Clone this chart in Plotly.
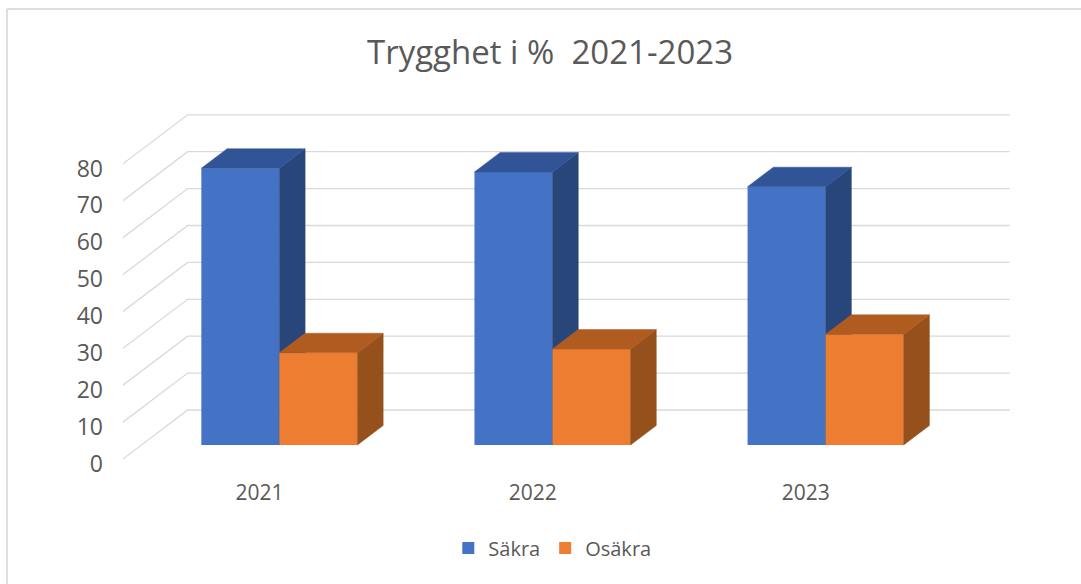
import plotly.graph_objects as go

years = ["2021", "2022", "2023"]
sakra = [75, 74, 70]
osakra = [25, 26, 30]
y_ticks = [0, 10, 20, 30, 40, 50, 60, 70, 80]

PX_X = 273.0
PX_Y = 3.69
W, H = 1081, 584
L, R, T, B = 123.4, 1011, 105, 470
ZERO_PX = 460
DX = 66 / PX_X
DY = 50 / PX_Y
BAR_W = 78 / PX_X
D0, D1 = 0.30, 0.69
WALL_L, WALL_R = -0.505, 2.505
LABEL_OFFSET = 1.0
xr = [-0.5, -0.5 + (R - L) / PX_X]
yr = [(ZERO_PX - B) / PX_Y, (ZERO_PX - T) / PX_Y]
FONT = "Open Sans"
TXT = "#595959"

def proj(x, v, d):
    return x + d * DX, v + d * DY

def poly(points, color, xa, ya):
    xs, ys = zip(*points)
    return go.Scatter(x=list(xs) + [xs[0]], y=list(ys) + [ys[0]], mode="lines", fill="toself",
                      fillcolor=color, line=dict(color=color, width=0.5), showlegend=False,
                      hoverinfo="skip", xaxis=xa, yaxis=ya, cliponaxis=False)

fig = go.Figure()

# walls
for v in y_ticks:
    a = proj(WALL_L, v, 0)
    b = proj(WALL_L, v, 1)
    c = proj(WALL_R, v, 1)
    fig.add_trace(go.Scatter(x=[a[0], b[0], c[0]], y=[a[1], b[1], c[1]], mode="lines", cliponaxis=False,
                             line=dict(color="#D9D9D9", width=1.3), showlegend=False, hoverinfo="skip"))

def series(name, vals, start, front, side, top, xa, ya):
    xs, bases = [], []
    for i, v in enumerate(vals):
        xs.append(i + start * BAR_W + D0 * DX)
        bases.append(D0 * DY)
    fig.add_trace(go.Bar(name=name, x=xs, y=vals, base=bases, width=BAR_W, offset=0,
                         marker=dict(color=front, line=dict(width=0)), xaxis=xa, yaxis=ya))
    for i, v in enumerate(vals):
        x0 = i + start * BAR_W
        x1 = x0 + BAR_W
        fig.add_trace(poly([proj(x1, 0, D0), proj(x1, 0, D1), proj(x1, v, D1), proj(x1, v, D0)], side, xa, ya))
        fig.add_trace(poly([proj(x0, v, D0), proj(x1, v, D0), proj(x1, v, D1), proj(x0, v, D1)], top, xa, ya))

series("Säkra", sakra, -1, "#4472C4", "#28467A", "#305496", "x2", "y2")
series("Osäkra", osakra, 0, "#ED7D31", "#95501B", "#B05C20", "x3", "y3")

hidden = dict(range=xr, visible=False, fixedrange=True)
hiddeny = dict(range=yr, visible=False, fixedrange=True)
px = lambda p: (p - L) / (R - L)
py = lambda p: (B - p) / (B - T)
border = dict(color="#DEDEDE", width=2)
fig.update_layout(
    width=W, height=H, autosize=False,
    margin=dict(l=L, r=W - R, t=T, b=H - B, pad=0),
    paper_bgcolor="white", plot_bgcolor="rgba(0,0,0,0)",
    barmode="overlay",
    font=dict(family=FONT, color=TXT),
    title=dict(text="Trygghet i %  2021-2023", x=550 / W, xanchor="center", y=1 - 52 / H, yanchor="middle",
               font=dict(size=33, family=FONT, color=TXT)),
    xaxis=dict(range=xr, tickmode="array", tickvals=[0, 1, 2], ticktext=years, showgrid=False, zeroline=False,
               showline=False, ticks="", ticklabelstandoff=8, tickfont=dict(size=21, color=TXT, family=FONT), fixedrange=True),
    yaxis=dict(range=yr, tickmode="array", tickvals=[v - LABEL_OFFSET for v in y_ticks], ticktext=[str(v) for v in y_ticks],
               showgrid=False, zeroline=False, showline=False,
               ticks="", ticklabelstandoff=19, tickfont=dict(size=23, color=TXT, family=FONT), fixedrange=True),
    xaxis2=dict(overlaying="x", **hidden), yaxis2=dict(overlaying="y", **hiddeny),
    xaxis3=dict(overlaying="x", **hidden), yaxis3=dict(overlaying="y", **hiddeny),
    legend=dict(orientation="h", x=396 / W, xanchor="left", y=1 - 548 / H, yanchor="middle",
                yref="container", font=dict(size=20, color=TXT, family=FONT), bgcolor="rgba(0,0,0,0)"),
    shapes=[
        dict(type="line", xref="paper", yref="paper", layer="below", line=border,
             x0=px(7.5), x1=px(W), y0=py(9), y1=py(9)),
        dict(type="line", xref="paper", yref="paper", layer="below", line=border,
             x0=px(7.5), x1=px(7.5), y0=py(9), y1=py(H)),
    ],
)
fig.write_html("out.html", config={"displayModeBar": False},
               post_script="document.body.style.margin='0';document.documentElement.style.overflow='hidden';")
